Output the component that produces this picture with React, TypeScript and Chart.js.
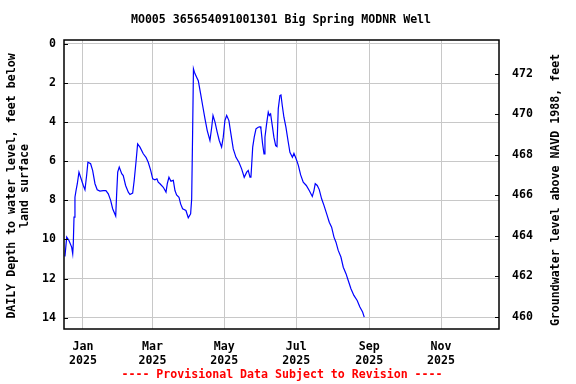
import React, { useEffect, useRef } from "react";
import { Chart, registerables } from "chart.js";

Chart.register(...registerables);

const TITLE = "MO005 365654091001301 Big Spring MODNR Well";
const FOOTER = "---- Provisional Data Subject to Revision ----";
const LEFT_TITLE = ["DAILY Depth to water level, feet below", "land surface"];
const RIGHT_TITLE = "Groundwater level above NAVD 1988, feet";

// days since 2025-01-01
const dayOffsets = [
  -15.3, -13.8, -11.9, -9.6, -8.7, -8.2, -7.6, -6.8, -5.9, -4.8, -3.4, -2.0,
  0.3, 1.7, 3.1, 4.2, 6.5, 8.2, 10.2, 12.1, 14.4, 17.2, 19.5, 21.5, 23.5, 25.2,
  27.8, 28.6, 29.5, 30.8, 32.9, 34.2, 36.2, 38.5, 39.9, 42.2, 43.5, 45.0, 46.4,
  48.4, 51.2, 53.5, 55.4, 57.5, 59.2, 61.1, 62.8, 63.9, 65.4, 68.2, 70.5, 71.6,
  73.0, 74.7, 76.7, 78.1, 79.5, 81.5, 82.9, 84.6, 87.4, 89.4, 91.4, 92.3, 93.1,
  93.8, 94.6, 96.5, 97.9, 99.9, 101.6, 103.6, 105.5, 107.8, 109.3, 110.4, 112.1,
  114.0, 115.7, 117.7, 119.1, 120.5, 122.0, 123.9, 125.4, 127.6, 129.9, 132.4,
  134.7, 136.9, 139.0, 140.3, 141.8, 142.6, 143.2, 144.1, 145.4, 146.9, 148.8,
  150.3, 151.1, 152.5, 153.7, 154.5, 155.9, 157.3, 158.2, 159.3, 160.7, 162.1,
  163.6, 164.7, 165.8, 167.2, 168.1, 169.2, 170.6, 172.3, 174.3, 175.7, 177.8,
  179.1, 180.8, 182.8, 184.8, 187.0, 189.6, 192.1, 194.7, 196.1, 197.2, 198.9,
  200.6, 202.6, 204.6, 206.9, 209.1, 211.1, 213.1, 214.8, 216.7, 219.0, 221.0,
  223.3, 225.2, 227.5, 230.0, 232.8, 235.1, 237.4, 238.8,
];

// depth to water, feet below land surface
const depths = [
  10.87, 9.88, 10.05, 10.39, 10.73, 10.2, 8.86, 7.84, 7.5, 7.15, 6.56, 6.82,
  7.24, 7.46, 6.73, 6.05, 6.13, 6.47, 7.15, 7.46, 7.53, 7.5, 7.5, 7.67, 8.0, 8.43,
  8.8, 7.67, 6.56, 6.3, 6.64, 6.73, 7.24, 7.58, 7.7, 7.63, 6.98, 6.05, 5.11,
  5.28, 5.62, 5.8, 6.05, 6.47, 6.9, 6.95, 6.9, 7.07, 7.15, 7.33, 7.58, 7.15,
  6.82, 7.02, 6.98, 7.5, 7.72, 7.84, 8.18, 8.43, 8.52, 8.89, 8.69, 7.92, 4.52,
  1.28, 1.45, 1.7, 1.88, 2.56, 3.15, 3.83, 4.43, 4.94, 4.26, 3.66, 4.0,
  4.52, 4.94, 5.28, 4.77, 3.92, 3.66, 3.92, 4.52, 5.37, 5.8, 6.05,
  6.39, 6.82, 6.56, 6.47, 6.82, 6.82, 6.22, 5.28, 4.77, 4.34, 4.26,
  4.23, 4.34, 5.11, 5.62, 4.77, 4.09, 3.49, 3.66, 3.58, 4.17, 4.77,
  5.2, 5.25, 3.32, 2.64, 2.61, 3.15, 3.75, 4.26, 5.03, 5.54, 5.8,
  5.6, 5.85, 6.2, 6.7, 7.07, 7.24, 7.5, 7.8, 7.5, 7.15, 7.24,
  7.45, 7.92, 8.26, 8.69, 9.12, 9.37, 9.88, 10.14, 10.56, 10.9, 11.42,
  11.75, 12.1, 12.52, 12.86, 13.12, 13.46, 13.71, 13.97,
];

const xTickDays = [0, 59, 120, 181, 243, 304];
const xTickMonths = ["Jan", "Mar", "May", "Jul", "Sep", "Nov"];
const xTickYears = ["2025", "2025", "2025", "2025", "2025", "2025"];
const depthTicks = [0, 2, 4, 6, 8, 10, 12, 14];
const elevTicks = [460, 462, 464, 466, 468, 470, 472];

const FONT_FAMILY = "'DejaVu Sans Mono', monospace";
const FONT_SIZE = 11.6;
const FONT = `bold ${FONT_SIZE}px ${FONT_FAMILY}`;

const decorPlugin = {
  id: "decor",
  afterDraw(chart: any) {
    const ctx = chart.ctx as CanvasRenderingContext2D;
    const a = chart.chartArea;
    ctx.save();
    // frame
    ctx.strokeStyle = "#000";
    ctx.lineWidth = 1.5;
    ctx.strokeRect(a.left, a.top, a.right - a.left, a.bottom - a.top);
    // inward ticks
    ctx.lineWidth = 1;
    const yl = chart.scales.y;
    for (const v of depthTicks) {
      const p = Math.round(yl.getPixelForValue(v)) + 0.5;
      ctx.beginPath();
      ctx.moveTo(a.left, p);
      ctx.lineTo(a.left + 4, p);
      ctx.stroke();
    }
    const yr = chart.scales.y2;
    for (const v of elevTicks) {
      const p = Math.round(yr.getPixelForValue(v)) + 0.5;
      ctx.beginPath();
      ctx.moveTo(a.right, p);
      ctx.lineTo(a.right - 4, p);
      ctx.stroke();
    }
    // texts
    ctx.font = FONT;
    ctx.fillStyle = "#000";
    ctx.textAlign = "center";
    ctx.textBaseline = "middle";
    ctx.fillText(TITLE, 281, 20);
    ctx.fillStyle = "#ff0000";
    ctx.fillText(FOOTER, 282, 375);
    ctx.fillStyle = "#000";
    // left title
    ctx.save();
    ctx.translate(12, 186);
    ctx.rotate(-Math.PI / 2);
    ctx.fillText(LEFT_TITLE[0], 0, 0);
    ctx.fillText(LEFT_TITLE[1], 0, 13);
    ctx.restore();
    // right title
    ctx.save();
    ctx.translate(556, 190);
    ctx.rotate(-Math.PI / 2);
    ctx.fillText(RIGHT_TITLE, 0, 0);
    ctx.restore();
    ctx.restore();
  },
};

export default function App() {
  const canvasRef = useRef<HTMLCanvasElement | null>(null);

  useEffect(() => {
    document.body.style.margin = "0";
    const canvas = canvasRef.current;
    if (!canvas) return;
    const points = dayOffsets.map((d, i) => ({ x: d, y: depths[i] }));
    const tickFont = { family: FONT_FAMILY, size: FONT_SIZE, weight: "bold" as const };
    const chart = new Chart(canvas, {
      type: "line",
      data: {
        datasets: [
          {
            data: points,
            borderColor: "#0000ff",
            borderWidth: 1.2,
            pointRadius: 0,
            tension: 0,
            fill: false,
            yAxisID: "y",
            xAxisID: "x",
          },
        ],
      },
      plugins: [decorPlugin],
      options: {
        animation: false,
        responsive: false,
        maintainAspectRatio: false,
        layout: { padding: { top: 40, left: 0, right: 0, bottom: 0 } },
        plugins: {
          legend: { display: false },
          tooltip: { enabled: false },
          title: { display: false },
        },
        scales: {
          x: {
            type: "linear",
            min: -16.1,
            max: 353.2,
            border: { display: false },
            grid: { color: "#c8c8c8", lineWidth: 1, drawTicks: false },
            afterBuildTicks: (s: any) => {
              s.ticks = xTickDays.map((v) => ({ value: v }));
            },
            afterFit: (s: any) => {
              s.height = 55;
            },
            ticks: {
              autoSkip: false,
              maxRotation: 0,
              minRotation: 0,
              padding: 11,
              color: "#000",
              font: tickFont,
              callback: (v: any) => {
                const i = xTickDays.indexOf(Number(v));
                return i >= 0 ? [xTickMonths[i], xTickYears[i]] : "";
              },
            },
          },
          y: {
            type: "linear",
            position: "left",
            reverse: true,
            min: -0.2,
            max: 14.58,
            border: { display: false },
            grid: { color: "#c8c8c8", lineWidth: 1, drawTicks: false },
            afterBuildTicks: (s: any) => {
              s.ticks = depthTicks.map((v) => ({ value: v }));
            },
            afterFit: (s: any) => {
              s.width = 64;
            },
            ticks: {
              autoSkip: false,
              padding: 8,
              color: "#000",
              font: tickFont,
            },
          },
          y2: {
            type: "linear",
            position: "right",
            min: 459.4,
            max: 473.68,
            border: { display: false },
            grid: { display: false, drawTicks: false },
            afterBuildTicks: (s: any) => {
              s.ticks = elevTicks.map((v) => ({ value: v }));
            },
            afterFit: (s: any) => {
              s.width = 77;
            },
            ticks: {
              autoSkip: false,
              padding: 13,
              color: "#000",
              font: tickFont,
            },
          },
        },
      },
    });
    return () => {
      chart.destroy();
    };
  }, []);

  return (
    <div style={{ position: "absolute", left: 0, top: 0, width: 576, height: 384, background: "#fff" }}>
      <canvas ref={canvasRef} width={576} height={384} style={{ display: "block", width: 576, height: 384 }} />
    </div>
  );
}
